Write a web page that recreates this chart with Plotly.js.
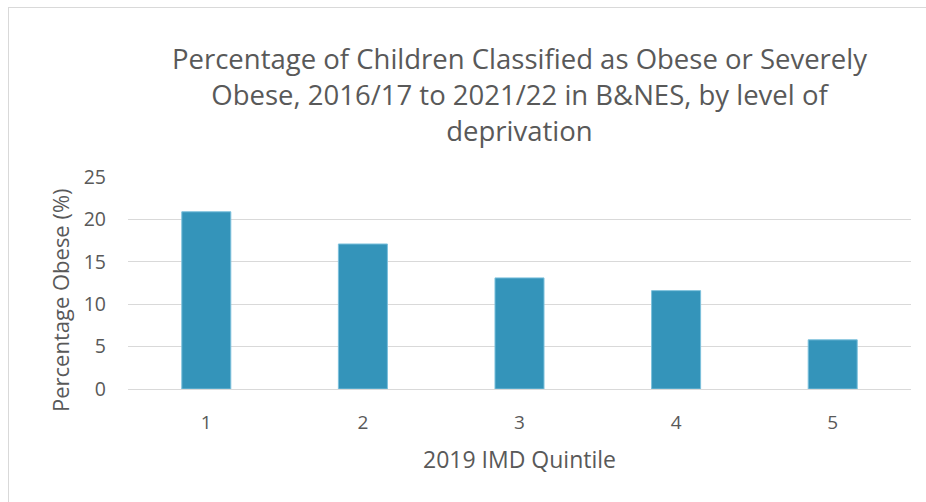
<!DOCTYPE html>
<html>
<head>
<meta charset="utf-8">
<script src="https://cdn.plot.ly/plotly-3.0.1.min.js"></script>
<style>
  html, body { margin: 0; padding: 0; background: #ffffff; }
  #wrap { position: relative; width: 926px; height: 502px; overflow: hidden; }
  #chart { width: 926px; height: 502px; }
  #frame { position: absolute; left: 8px; top: 7px; width: 930px; height: 510px;
           border-left: 1px solid #d9d9d9; border-top: 1px solid #d9d9d9; pointer-events: none; }
</style>
</head>
<body>
<div id="wrap">
  <div id="chart"></div>
  <div id="frame"></div>
</div>
<script>
const quintiles = ["1", "2", "3", "4", "5"];
const percentObese = [20.9, 17.1, 13.1, 11.6, 5.8];
const yTicks = [0, 5, 10, 15, 20, 25];

const chartTitle = "Percentage of Children Classified as Obese or Severely<br>Obese, 2016/17 to 2021/22 in B&amp;NES, by level of<br>deprivation";
const xTitle = "2019 IMD Quintile";
const yTitle = "Percentage Obese (%)";

const textColor = "#595959";
const gridColor = "#d9d9d9";
const fontFam = "'Open Sans', 'Noto Sans', sans-serif";

const trace = {
  type: "bar",
  x: quintiles,
  y: percentObese,
  marker: { color: "#3494ba", line: { color: "#7cc0dc", width: 1 } },
  hoverinfo: "x+y"
};

const layout = {
  width: 926,
  height: 502,
  paper_bgcolor: "#ffffff",
  plot_bgcolor: "#ffffff",
  margin: { l: 128, r: 15, t: 177, b: 113, pad: 0 },
  bargap: 0.687,
  showlegend: false,
  font: { family: fontFam, color: textColor },
  title: {
    text: chartTitle,
    font: { family: fontFam, size: 27.5, color: textColor },
    x: 0.5, xanchor: "center", xref: "paper",
    y: 0.862, yanchor: "middle", yref: "container"
  },
  xaxis: {
    type: "category",
    tickfont: { size: 19, color: textColor },
    showgrid: false,
    showline: true,
    linecolor: gridColor,
    linewidth: 1,
    ticks: "",
    ticklabelstandoff: 16,
    title: { text: xTitle, font: { size: 23, color: textColor }, standoff: 18 }
  },
  yaxis: {
    range: [0, 25],
    tickvals: yTicks,
    ticktext: yTicks.map(String),
    tickfont: { size: 19.5, color: textColor },
    showgrid: true,
    gridcolor: gridColor,
    gridwidth: 1,
    zeroline: true,
    zerolinecolor: gridColor,
    showline: false,
    ticks: "",
    ticklabelstandoff: 21
  },
  annotations: [{
    text: yTitle,
    xref: "paper", yref: "paper",
    x: -0.0868, y: 0.4196,
    xanchor: "center", yanchor: "middle",
    textangle: -90,
    showarrow: false,
    font: { family: fontFam, size: 22, color: textColor }
  }]
};

Plotly.newPlot("chart", [trace], layout, { displayModeBar: false, staticPlot: true });
</script>
</body>
</html>
